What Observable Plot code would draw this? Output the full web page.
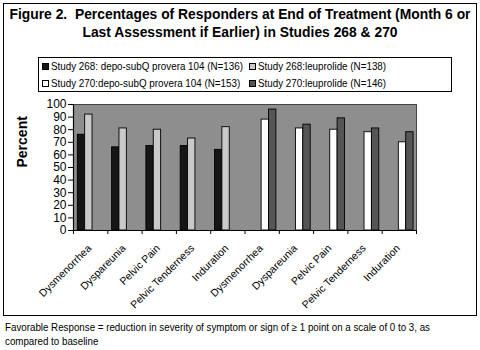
<!DOCTYPE html>
<html>
<head>
<meta charset="utf-8">
<script src="https://cdn.jsdelivr.net/npm/d3@7"></script>
<script src="https://cdn.jsdelivr.net/npm/@observablehq/plot@0.6"></script>
<style>
  html, body { margin: 0; padding: 0; background: #fff; }
  #wrap { position: relative; width: 480px; height: 350px; font-family: Arial, "Liberation Sans", Helvetica, sans-serif; color: #000; overflow: hidden; }
  #border { position: absolute; left: 3px; top: 3px; width: 472px; height: 311px; border: 1.5px solid #000; }
  .tl { position: absolute; left: 0; width: max-content; font-weight: bold; font-size: 15.5px; line-height: 18px; white-space: nowrap; transform-origin: 0 50%; }
  #legend { position: absolute; left: 38px; top: 57px; width: 412px; height: 33px; border: 1.2px solid #000; font-size: 11px; }
  .item { position: absolute; display: flex; align-items: center; white-space: nowrap; line-height: 13px; }
  .sw { width: 7px; height: 7px; border: 1px solid #000; margin-right: 2px; box-sizing: border-box; flex: none; }
  .lt { display: inline-block; transform-origin: 0 50%; }
  #chart { position: absolute; left: 0; top: 95px; }
  .fl { position: absolute; left: 5px; width: max-content; font-size: 10.5px; line-height: 14px; white-space: nowrap; transform-origin: 0 50%; }
</style>
</head>
<body>
<div id="wrap">
  <div id="border"></div>
  <div class="tl" id="t1" style="top:5px">Figure 2.&nbsp; Percentages of Responders at End of Treatment (Month 6 or</div>
  <div class="tl" id="t2" style="top:23px">Last Assessment if Earlier) in Studies 268 &amp; 270</div>
  <div id="legend"></div>
  <div id="chart"></div>
  <div class="fl" id="f1" style="top:320px">Favorable Response = reduction in severity of symptom or sign of ≥ 1 point on a scale of 0 to 3, as</div>
  <div class="fl" id="f2" style="top:334px">compared to baseline</div>
</div>
<script>
const categories = ["Dysmenorrhea", "Dyspareunia", "Pelvic Pain", "Pelvic Tenderness", "Induration"];
const seriesNames = [
  "Study 268: depo-subQ provera 104 (N=136)",
  "Study 268:leuprolide (N=138)",
  "Study 270:depo-subQ provera 104 (N=153)",
  "Study 270:leuprolide (N=146)"
];
const study268Depo = [76, 66, 67, 67, 64];
const study268Leup = [92, 81, 80, 73, 82];
const study270Depo = [88, 81, 80, 78, 70];
const study270Leup = [96, 84, 89, 81, 78];
const seriesColors = ["#161616", "#c9c9c9", "#ffffff", "#555555"];
const yTicks = [0, 10, 20, 30, 40, 50, 60, 70, 80, 90, 100];

const seriesValues = [study268Depo, study268Leup, study270Depo, study270Leup];
const rows = [];
seriesValues.forEach((vals, s) => {
  const group = Math.floor(s / 2);
  vals.forEach((v, i) => {
    rows.push({series: seriesNames[s], group, slot: s % 2, pos: group * 5 + i, value: v});
  });
});
const labels = [];
[0, 1].forEach(g => categories.forEach((c, i) => labels.push({name: c, pos: g * 5 + i})));

const barW = 0.215;
const groupCenter = [0.34, 0.70];
const x1 = d => d.pos + groupCenter[d.group] - barW + d.slot * barW;
const x2 = d => x1(d) + barW;

// Legend
const legend = document.getElementById("legend");
const legendPos = [[3, 2], [210, 2], [3, 19], [210, 19]];
const legendTexts = [];
seriesNames.forEach((n, i) => {
  const it = document.createElement("div");
  it.className = "item";
  it.style.left = legendPos[i][0] + "px";
  it.style.top = legendPos[i][1] + "px";
  it.innerHTML = `<span class="sw" style="background:${seriesColors[i]}"></span><span class="lt">${n}</span>`;
  legend.appendChild(it);
  legendTexts.push(it.querySelector(".lt"));
});

// Condense text horizontally to match the reference's narrow typeface
const W = el => el.getBoundingClientRect().width;
const t1 = document.getElementById("t1"), t2 = document.getElementById("t2");
const ts = 461 / W(t1);
[t1, t2].forEach(e => {
  const w = W(e) * ts;
  e.style.transform = `translateX(${(480 - w) / 2}px) scaleX(${ts})`;
});
const ls = 192 / W(legendTexts[0]);
legendTexts.forEach(e => e.style.transform = `scaleX(${ls})`);
const f1 = document.getElementById("f1"), f2 = document.getElementById("f2");
const fs = 425 / W(f1);
[f1, f2].forEach(e => e.style.transform = `scaleX(${fs})`);

const chart = Plot.plot({
  width: 480,
  height: 215,
  marginLeft: 73,
  marginRight: 64,
  marginTop: 9,
  marginBottom: 80,
  style: {fontFamily: "Arial, 'Liberation Sans', Helvetica, sans-serif", background: "transparent", color: "#000"},
  x: {domain: [0, 10]},
  y: {domain: [0, 100]},
  color: {domain: seriesNames, range: seriesColors},
  marks: [
    Plot.frame({fill: "#8e8e8e", stroke: "#444", strokeWidth: 1}),
    Plot.rectY(rows, {x1, x2, y1: 0, y2: "value", fill: "series", stroke: "#000", strokeWidth: 0.9}),
    Plot.ruleY([0], {stroke: "#000", strokeWidth: 1.2}),
    Plot.ruleX([0], {stroke: "#000", strokeWidth: 1.2}),
    Plot.axisY({ticks: yTicks, tickSize: 5, tickPadding: 2, fontSize: 12, label: null, tickFormat: d => d}),
    Plot.axisX({ticks: d3.range(0, 11), tickSize: 4, tickFormat: () => "", label: null}),
    Plot.text(labels, {x: d => d.pos + 0.5, y: 0, text: "name", rotate: -45, textAnchor: "end", dy: 16, dx: -1, fontSize: 10.5}),
    Plot.text(["Percent"], {frameAnchor: "left", dx: -51, rotate: -90, text: d => d, fontWeight: "bold", fontSize: 14})
  ]
});
document.getElementById("chart").appendChild(chart);
</script>
</body>
</html>
